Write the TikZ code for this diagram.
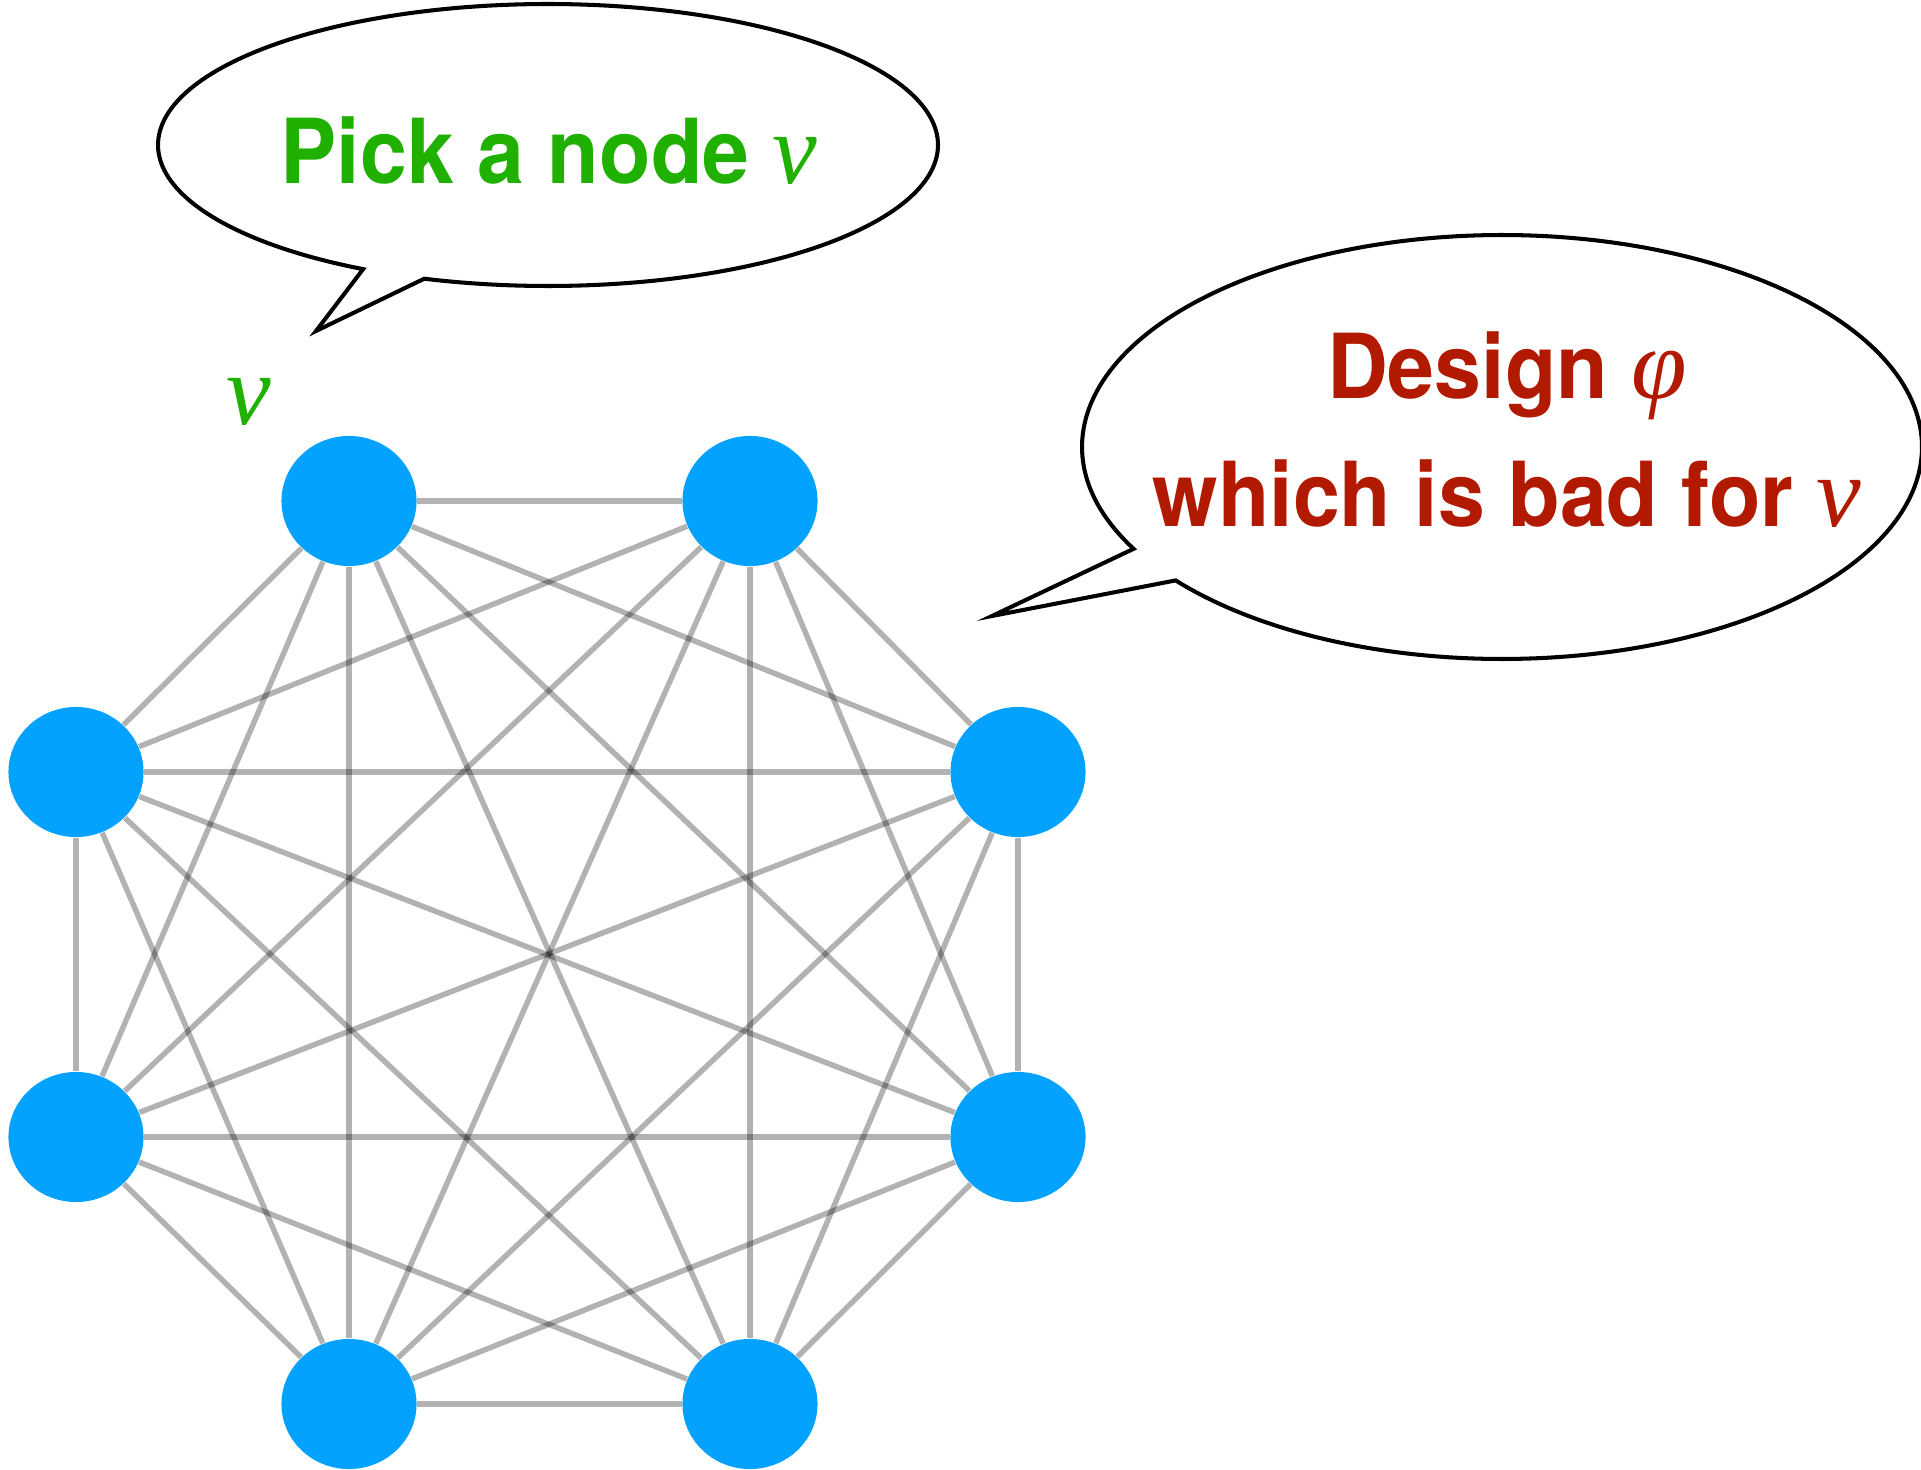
\documentclass[tikz,border=0pt]{standalone}
\usepackage{fontspec}
\setmainfont{TeX Gyre Heros}
\newfontfamily\bubblefont{TeX Gyre Heros}[FakeStretch=0.94]
\newfontfamily\serifvar{Liberation Serif}[Scale=1.12]
\usetikzlibrary{shapes.geometric,backgrounds}
\definecolor{nodeblue}{RGB}{3,162,255}
\definecolor{pickgreen}{RGB}{32,176,0}
\definecolor{badred}{RGB}{178,26,0}
\newcommand{\varsym}[1]{{\serifvar\mdseries\itshape #1}}

\begin{document}
\begin{tikzpicture}[x=0.01cm,y=-0.01cm,
  vertex/.style={ellipse, fill=nodeblue, minimum width=1.35cm, minimum height=1.30cm, inner sep=0pt},
  edge/.style={line width=1.55pt, black, opacity=0.3},
  bubble/.style={draw=black, line width=1.15pt, fill=white, line join=miter},
  bubbletext/.style={anchor=base, inner sep=0pt, font=\fontsize{25.5}{30}\bubblefont\bfseries}]
\useasboundingbox (0,0) rectangle (1921,1470);

% the eight vertices of the complete graph
\node[vertex] (n1) at (349,501) {};
\node[vertex] (n2) at (750,501) {};
\node[vertex] (n3) at (1018,772) {};
\node[vertex] (n4) at (1018,1137) {};
\node[vertex] (n5) at (750,1404) {};
\node[vertex] (n6) at (349,1404) {};
\node[vertex] (n7) at (76,1137) {};
\node[vertex] (n8) at (76,772) {};

% all 28 edges, behind the vertices
\begin{scope}[on background layer]
\foreach \i in {1,...,7} {
  \pgfmathtruncatemacro\nxt{\i+1}
  \foreach \j in {\nxt,...,8} \draw[edge] (n\i) -- (n\j);
}
\end{scope}

% speech bubbles
\coordinate (tip1) at (316,331);
\coordinate (tip2) at (992,616);
\draw[bubble] plot[domain=118.3:468.5, samples=240] ({548+390*cos(\x)},{145+141*sin(\x)}) -- (tip1) -- cycle;
\draw[bubble] plot[domain=151.3:501, samples=240] ({1502+420*cos(\x)},{447+212*sin(\x)}) -- (tip2) -- cycle;

\node[bubbletext, text=pickgreen] (pick) at (549,184) {Pick a node \varsym{v}};
\node[bubbletext, text=badred] (design) at (1507,399) {Design \varsym{φ}};
\node[bubbletext, text=badred] (bad) at (1507,527) {which is bad for \varsym{v}};

\node[anchor=base, inner sep=0pt, text=pickgreen, font=\fontsize{25.5}{30}\selectfont] (vlabel) at (249,425) {\varsym{v}};
\end{tikzpicture}
\end{document}
